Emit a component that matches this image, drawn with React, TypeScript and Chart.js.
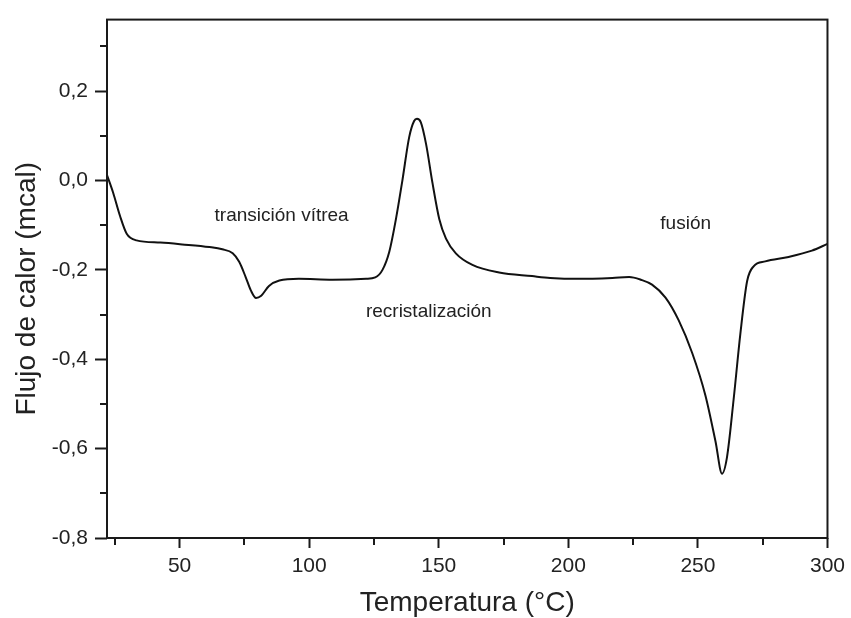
import { useEffect, useRef } from "react";
import { Chart, registerables } from "chart.js";

Chart.register(...registerables);

// DSC scan: temperature (°C) and heat flow (mcal)
const TEMPERATURE = [
  22.0, 24.4, 27.0, 29.6, 33.4, 42.6, 51.0, 61.5, 66.5, 70.5, 73.0, 75.5, 77.5, 79.5,
  81.5, 84.5, 88.5, 96.0, 109.0, 122.0, 125.5, 128.3, 130.9, 133.5, 136.0, 138.6,
  140.5, 141.6, 143.1, 145.1, 147.6, 150.2, 152.8, 156.6, 163.0, 173.3, 186.0, 193.0,
  204.0, 217.0, 223.5, 228.0, 232.3, 237.5, 242.6, 247.8, 252.9, 256.8, 259.3, 261.2,
  263.8, 266.4, 269.0, 271.5, 276.0, 285.0, 294.0, 300.0,
];
const HEAT_FLOW = [
  0.012, -0.028, -0.079, -0.119, -0.134, -0.139, -0.143, -0.149, -0.154, -0.163, -0.182,
  -0.216, -0.246, -0.263, -0.258, -0.236, -0.224, -0.220, -0.222, -0.220, -0.217, -0.200,
  -0.160, -0.086, 0.001, 0.097, 0.133, 0.138, 0.130, 0.082, -0.006, -0.086, -0.130,
  -0.163, -0.189, -0.206, -0.214, -0.218, -0.220, -0.218, -0.216, -0.222, -0.233, -0.262,
  -0.313, -0.386, -0.481, -0.584, -0.656, -0.620, -0.489, -0.342, -0.225, -0.192, -0.181,
  -0.171, -0.157, -0.142,
];

const X_MIN = 22;
const X_MAX = 300;
const Y_MIN = -0.8;
const Y_MAX = 0.36;

const X_MAJOR = [50, 100, 150, 200, 250, 300];
const X_MINOR = [25, 75, 125, 175, 225, 275];
const Y_MAJOR = [-0.8, -0.6, -0.4, -0.2, 0, 0.2];
const Y_MINOR = [-0.7, -0.5, -0.3, -0.1, 0.1, 0.3];

// Event labels placed in data coordinates (left edge, baseline)
const NOTE_TEXT = ["transición vítrea", "recristalización", "fusión"];
const NOTE_X = [63.5, 121.9, 235.5];
const NOTE_Y = [-0.09, -0.306, -0.108];

const X_TITLE = "Temperatura (°C)";
const Y_TITLE = "Flujo de calor (mcal)";

const INK = "#1a1a1a";
const FONT = '"Liberation Sans", Arial, Helvetica, sans-serif';

const formatTick = (v: number) => {
  const r = Math.round(v * 10) / 10;
  return r.toFixed(1).replace(".", ",");
};

const decorations = {
  id: "decorations",
  afterDraw(chart: any) {
    const { ctx, chartArea: a, scales } = chart;
    const xs = scales.x;
    const ys = scales.y;
    ctx.save();

    // frame around the plot area
    ctx.strokeStyle = INK;
    ctx.lineWidth = 2;
    ctx.strokeRect(a.left, a.top, a.right - a.left, a.bottom - a.top);

    // minor ticks
    ctx.beginPath();
    X_MINOR.forEach((v) => {
      const px = Math.round(xs.getPixelForValue(v));
      ctx.moveTo(px, a.bottom);
      ctx.lineTo(px, a.bottom + 7);
    });
    Y_MINOR.forEach((v) => {
      const py = Math.round(ys.getPixelForValue(v));
      ctx.moveTo(a.left, py);
      ctx.lineTo(a.left - 7, py);
    });
    ctx.stroke();

    // event labels
    ctx.fillStyle = "#222";
    ctx.font = `19px ${FONT}`;
    ctx.textAlign = "left";
    ctx.textBaseline = "alphabetic";
    NOTE_TEXT.forEach((t, i) => {
      ctx.fillText(t, xs.getPixelForValue(NOTE_X[i]), ys.getPixelForValue(NOTE_Y[i]));
    });

    // axis titles
    ctx.font = `28px ${FONT}`;
    ctx.textAlign = "center";
    ctx.fillText(X_TITLE, (a.left + a.right) / 2, 611);

    ctx.translate(35, (a.top + a.bottom) / 2 + 10);
    ctx.rotate(-Math.PI / 2);
    ctx.fillText(Y_TITLE, 0, 0);

    ctx.restore();
  },
};

export default function App() {
  const canvasRef = useRef<HTMLCanvasElement | null>(null);

  useEffect(() => {
    const canvas = canvasRef.current;
    if (!canvas) return;
    const points = TEMPERATURE.map((t, i) => ({ x: t, y: HEAT_FLOW[i] }));

    const chart = new Chart(canvas, {
      type: "line",
      data: {
        datasets: [
          {
            data: points,
            borderColor: "#111",
            borderWidth: 2,
            pointRadius: 0,
            fill: false,
            cubicInterpolationMode: "monotone",
          },
        ],
      },
      options: {
        responsive: false,
        animation: false,
        devicePixelRatio: 1,
        layout: { padding: { left: 0, right: 21, top: 10, bottom: 0 } },
        plugins: {
          legend: { display: false },
          tooltip: { enabled: false },
        },
        scales: {
          x: {
            type: "linear",
            min: X_MIN,
            max: X_MAX,
            afterBuildTicks: (scale: any) => {
              scale.ticks = X_MAJOR.map((value) => ({ value }));
            },
            afterFit: (scale: any) => {
              scale.height = 80;
            },
            border: { display: false },
            grid: {
              drawOnChartArea: false,
              drawTicks: true,
              tickLength: 10,
              tickWidth: 2,
              tickColor: INK,
            },
            ticks: {
              padding: 6,
              color: "#222",
              maxRotation: 0,
              autoSkip: false,
              font: { family: FONT, size: 21 },
              callback: (v: any) => String(v),
            },
          },
          y: {
            type: "linear",
            min: Y_MIN,
            max: Y_MAX,
            afterBuildTicks: (scale: any) => {
              scale.ticks = Y_MAJOR.map((value) => ({ value }));
            },
            afterFit: (scale: any) => {
              scale.width = 107;
            },
            border: { display: false },
            grid: {
              drawOnChartArea: false,
              drawTicks: true,
              tickLength: 12,
              tickWidth: 2,
              tickColor: INK,
            },
            ticks: {
              padding: 7,
              color: "#222",
              autoSkip: false,
              font: { family: FONT, size: 21 },
              callback: (v: any) => formatTick(Number(v)),
            },
          },
        },
      },
      plugins: [decorations],
    });

    return () => chart.destroy();
  }, []);

  return (
    <div
      style={{
        position: "fixed",
        left: 0,
        top: 0,
        width: 851,
        height: 618,
        background: "#fff",
      }}
    >
      <canvas ref={canvasRef} width={851} height={618} style={{ width: 851, height: 618 }} />
    </div>
  );
}
